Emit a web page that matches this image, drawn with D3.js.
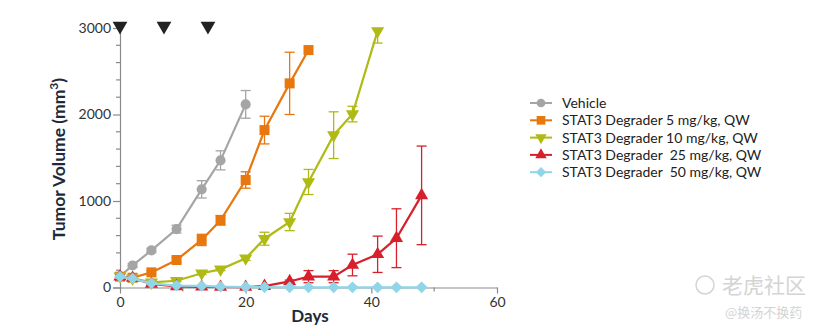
<!DOCTYPE html>
<html><head><meta charset="utf-8">
<script src="https://cdn.jsdelivr.net/npm/d3@7"></script>
<style>
body{margin:0;background:#fff;}
text{font-family:Lato,"Noto Sans",sans-serif;}
</style></head>
<body><svg id="c" width="822" height="330"></svg>
<script>
const days = [0,2,5,9,13,16,20,23,27,30,34,37,41,44,48];
const dosingDays = [0,7,14];
const seriesNames = ["Vehicle","STAT3 Degrader 5 mg/kg, QW","STAT3 Degrader 10 mg/kg, QW","STAT3 Degrader  25 mg/kg, QW","STAT3 Degrader  50 mg/kg, QW"];
const vehicle = [130,255,429,675,1135,1470,2117];
const vehicleErr = [15,20,25,45,100,110,160];
const dose5 = [125,113,175,318,550,777,1243,1820,2360,2745];
const dose5Err = [15,15,20,30,65,55,95,160,360,0];
const dose10 = [130,105,60,78,165,210,338,564,757,1220,1761,2005,2966];
const dose10Err = [15,10,10,10,15,15,25,75,100,145,270,90,140];
const dose25 = [125,110,40,12,8,6,5,15,70,125,125,260,384,570,1065];
const dose25Err = [20,15,10,5,3,3,3,5,15,70,70,125,210,340,570];
const dose50 = [125,105,48,22,18,10,6,4,3,2,2,2,2,2,2];
const dose50Err = [15,12,8,5,3,2,2,1,1,1,1,1,1,1,1];
const xTicks = [0,20,40,60];
const xMinor = [10,30,50];
const yTicks = [0,1000,2000,3000];
const yMinor = d3.range(0,3001,200);
const colors = ["#a5a5a5","#e8770e","#afbb14","#d7202c","#90d5e8"];

const series = [vehicle,dose5,dose10,dose25,dose50];
const errs = [vehicleErr,dose5Err,dose10Err,dose25Err,dose50Err];
const symbols = [
  {t:d3.symbolCircle,s:80,r:0},
  {t:d3.symbolSquare,s:100,r:0},
  {t:d3.symbolTriangle,s:75,r:180},
  {t:d3.symbolTriangle,s:75,r:0},
  {t:d3.symbolSquare,s:70,r:45}
];

const svg = d3.select("#c");
const x = d3.scaleLinear().domain([0,60]).range([120,497]);
const y = d3.scaleLinear().domain([0,3000]).range([287.5,28]);
const yMax = 3000;
const axisColor = "#8a8a8a";

// y axis
const ya = svg.append("g").attr("transform","translate(120,0)")
  .call(d3.axisLeft(y).tickValues(yTicks).tickSize(7).tickPadding(2).tickFormat(d3.format("d")));
ya.select(".domain").attr("stroke",axisColor).attr("stroke-width",1.2);
ya.selectAll(".tick line").attr("stroke",axisColor).attr("stroke-width",1.2);
ya.selectAll(".tick text").attr("fill","#333").style("font-size","14px").style("font-family","Lato");
svg.append("g").selectAll("line").data(yMinor.filter(v=>!yTicks.includes(v))).join("line")
  .attr("x1",116).attr("x2",120).attr("y1",d=>y(d)).attr("y2",d=>y(d))
  .attr("stroke",axisColor).attr("stroke-width",1.2);

// x axis
const xa = svg.append("g").attr("transform","translate(0,287.5)")
  .call(d3.axisBottom(x).tickValues(xTicks).tickSize(6).tickPadding(4).tickSizeOuter(0));
xa.select(".domain").attr("stroke",axisColor).attr("stroke-width",1.2);
xa.selectAll(".tick line").attr("stroke",axisColor).attr("stroke-width",1.2);
xa.selectAll(".tick text").attr("fill","#333").style("font-size","14px").style("font-family","Lato");
svg.append("g").selectAll("line").data(xMinor).join("line")
  .attr("x1",d=>x(d)).attr("x2",d=>x(d)).attr("y1",287.5).attr("y2",291.5)
  .attr("stroke",axisColor).attr("stroke-width",1.2);

// titles
svg.append("text").attr("x",310).attr("y",322).attr("text-anchor","middle")
  .style("font-size","17px").style("font-weight","bold").attr("fill","#1e2a3a").text("Days");
const yt = svg.append("text").attr("transform","translate(65,159) rotate(-90)").attr("text-anchor","middle")
  .style("font-size","17.5px").style("font-weight","bold").attr("fill","#1e2a3a");
yt.append("tspan").text("Tumor Volume (mm");
yt.append("tspan").attr("dy",-7).style("font-size","12px").text("3");
yt.append("tspan").attr("dy",7).text(")");

// dosing markers
svg.append("g").selectAll("path").data(dosingDays).join("path")
  .attr("d",d3.symbol().type(d3.symbolTriangle).size(95))
  .attr("transform",d=>`translate(${x(d)},26) rotate(180)`)
  .attr("fill","#222");

// series
const line = d3.line().x(d=>x(d[0])).y(d=>y(d[1]));
series.forEach((vals,i)=>{
  const pts = vals.map((v,j)=>[days[j],v,errs[i][j]]);
  const g = svg.append("g");
  // error bars
  const eb = g.selectAll("g.eb").data(pts.filter(p=>p[2]>0)).join("g");
  eb.append("line").attr("x1",d=>x(d[0])).attr("x2",d=>x(d[0]))
    .attr("y1",d=>y(Math.min(yMax,d[1]+d[2]))).attr("y2",d=>y(Math.max(0,d[1]-d[2])))
    .attr("stroke",colors[i]).attr("stroke-width",1.3);
  eb.filter(d=>d[1]+d[2]<=yMax).append("line").attr("x1",d=>x(d[0])-5).attr("x2",d=>x(d[0])+5)
    .attr("y1",d=>y(d[1]+d[2])).attr("y2",d=>y(d[1]+d[2]))
    .attr("stroke",colors[i]).attr("stroke-width",1.3);
  eb.append("line").attr("x1",d=>x(d[0])-5).attr("x2",d=>x(d[0])+5)
    .attr("y1",d=>y(Math.max(0,d[1]-d[2]))).attr("y2",d=>y(Math.max(0,d[1]-d[2])))
    .attr("stroke",colors[i]).attr("stroke-width",1.3);
  g.append("path").datum(pts).attr("d",line).attr("fill","none")
    .attr("stroke",colors[i]).attr("stroke-width",2.2);
  g.selectAll("path.m").data(pts).join("path").attr("class","m")
    .attr("d",d3.symbol().type(symbols[i].t).size(symbols[i].s))
    .attr("transform",d=>`translate(${x(d[0])},${y(d[1])}) rotate(${symbols[i].r})`)
    .attr("fill",colors[i]);
});

// legend
const lg = svg.append("g");
seriesNames.forEach((n,i)=>{
  const yy = 103 + i*17.3;
  lg.append("line").attr("x1",530).attr("x2",552).attr("y1",yy).attr("y2",yy)
    .attr("stroke",colors[i]).attr("stroke-width",2);
  lg.append("path").attr("d",d3.symbol().type(symbols[i].t).size(symbols[i].s*0.75))
    .attr("transform",`translate(541,${yy}) rotate(${symbols[i].r})`).attr("fill",colors[i]);
  lg.append("text").attr("x",562).attr("y",yy+5).style("font-size","14px")
    .style("white-space","pre").attr("xml:space","preserve").attr("fill","#222").text(n);
});

// watermark
const wm = svg.append("g").attr("fill","#d4d4d4");
wm.append("circle").attr("cx",705).attr("cy",285).attr("r",9).attr("fill","none").attr("stroke","#d4d4d4").attr("stroke-width",1.5);
wm.append("text").attr("x",722).attr("y",293).style("font-size","21px").style("font-family","Noto Sans CJK SC").text("老虎社区");
wm.append("text").attr("x",725).attr("y",317).style("font-size","13px").style("font-family","Noto Sans CJK SC").text("@换汤不换药");
</script></body></html>
